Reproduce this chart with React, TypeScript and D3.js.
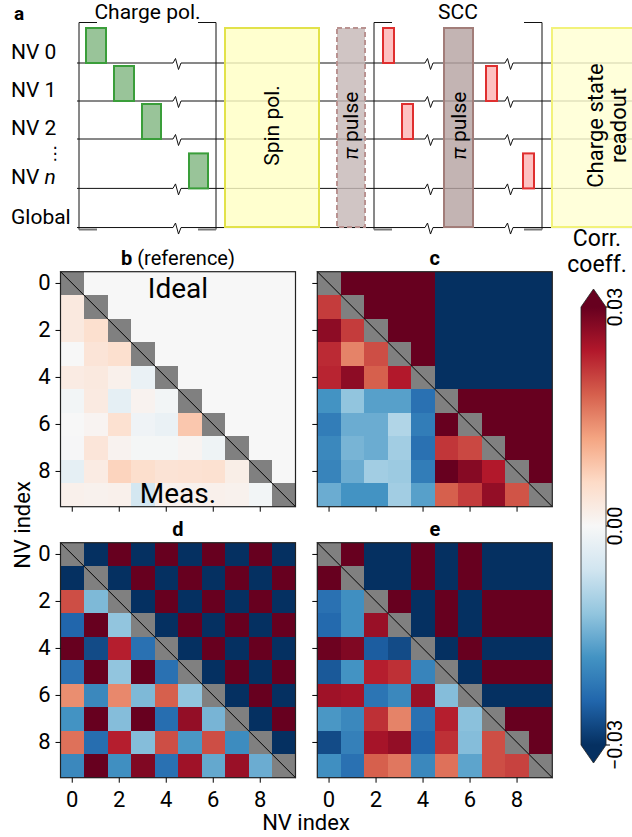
import React, { useEffect, useRef } from "react";
import * as d3 from "d3";

const FONT = "Roboto, 'DejaVu Sans', sans-serif";
const VMAX = 0.03;

// matrix categories and ticks
const nvIndex = [0, 1, 2, 3, 4, 5, 6, 7, 8, 9];
const axisTicks = [0, 2, 4, 6, 8];
const cbarTicks = [0.03, 0, -0.03];
const cbarTickLabels = ["0.03", "0.00", "\u22120.03"];

// RdBu colorbrewer anchors (red -> blue), used reversed like matplotlib's RdBu_r
const rdbu = ["#67001f", "#b2182b", "#d6604d", "#f4a582", "#fddbc7", "#f7f7f7", "#d1e5f0", "#92c5de", "#4393c3", "#2166ac", "#053061"];

// ideal (upper triangle, row i holds j = i+1..9), in units of the max correlation
const idealB = [
  [0, 0, 0, 0, 0, 0, 0, 0, 0],
  [0, 0, 0, 0, 0, 0, 0, 0],
  [0, 0, 0, 0, 0, 0, 0],
  [0, 0, 0, 0, 0, 0],
  [0, 0, 0, 0, 0],
  [0, 0, 0, 0],
  [0, 0, 0],
  [0, 0],
  [0],
];
const idealC = [
  [1, 1, 1, 1, -1, -1, -1, -1, -1],
  [1, 1, 1, -1, -1, -1, -1, -1],
  [1, 1, -1, -1, -1, -1, -1],
  [1, -1, -1, -1, -1, -1],
  [-1, -1, -1, -1, -1],
  [1, 1, 1, 1],
  [1, 1, 1],
  [1, 1],
  [1],
];
const idealD = [
  [-1, 1, -1, 1, -1, 1, -1, 1, -1],
  [-1, 1, -1, 1, -1, 1, -1, 1],
  [-1, 1, -1, 1, -1, 1, -1],
  [-1, 1, -1, 1, -1, 1],
  [-1, 1, -1, 1, -1],
  [-1, 1, -1, 1],
  [-1, 1, -1],
  [-1, 1],
  [-1],
];
const idealE = [
  [1, -1, -1, 1, -1, 1, -1, -1, -1],
  [-1, -1, 1, -1, 1, -1, -1, -1],
  [1, -1, 1, -1, 1, 1, 1],
  [-1, 1, -1, 1, 1, 1],
  [-1, 1, -1, -1, -1],
  [-1, 1, 1, 1],
  [-1, -1, -1],
  [1, 1],
  [1],
];

// measured (lower triangle, row i = 1..9 holds j = 0..i-1)
const measB = [
  [0.003],
  [0.003, 0.005],
  [0.0, 0.004, 0.005],
  [0.0025, 0.003, 0.0015, -0.002],
  [-0.0008, 0.0028, -0.0028, 0.001, -0.0008],
  [0.0, 0.0008, 0.0048, -0.0012, -0.002, 0.0082],
  [-0.0002, 0.0038, 0.001, -0.0005, -0.0005, 0.0008, -0.0015],
  [-0.0028, 0.0025, 0.0068, 0.0052, 0.0042, 0.0045, 0.0048, 0.002],
  [0.0015, 0.0012, 0.0015, -0.0055, 0.0012, 0.0012, 0.0015, 0.0012, -0.0008],
];
const measC = [
  [0.021],
  [0.027, 0.021],
  [0.0225, 0.015, 0.0195],
  [0.023, 0.027, 0.018, 0.024],
  [-0.018, -0.012, -0.0165, -0.0165, -0.0225],
  [-0.021, -0.015, -0.015, -0.009, -0.021, 0.031],
  [-0.0195, -0.014, -0.015, -0.0105, -0.0225, 0.0215, 0.02],
  [-0.02, -0.015, -0.0105, -0.011, -0.021, 0.032, 0.0275, 0.024],
  [-0.015, -0.018, -0.018, -0.0105, -0.0165, 0.018, 0.021, 0.0265, 0.019],
];
const measD = [
  [-0.031],
  [0.0195, -0.0135],
  [-0.024, 0.031, -0.012],
  [0.031, -0.027, 0.0235, -0.0225],
  [-0.0225, 0.031, -0.012, 0.031, -0.0225],
  [0.014, -0.0195, 0.0145, -0.0135, 0.018, -0.012],
  [-0.018, 0.031, -0.013, 0.031, -0.023, 0.0265, -0.014],
  [0.0165, -0.023, 0.0235, -0.013, 0.0195, -0.0175, 0.0195, -0.019],
  [-0.0195, 0.031, -0.0185, 0.028, -0.0225, 0.0255, -0.0155, 0.026, -0.015],
];
const measE = [
  [0.031],
  [-0.0225, -0.0185],
  [-0.0235, -0.0185, 0.026],
  [0.0295, 0.028, -0.025, -0.027],
  [-0.0255, -0.018, 0.0235, 0.022, -0.02],
  [0.0255, 0.025, -0.022, -0.0195, 0.026, -0.013],
  [-0.0175, -0.0195, 0.022, 0.015, -0.0225, 0.0235, -0.0125],
  [-0.027, -0.0205, 0.025, 0.0265, -0.024, 0.022, -0.013, 0.0195],
  [-0.0185, -0.0225, 0.018, 0.016, -0.0195, 0.0165, -0.016, 0.0195, 0.0205],
];

// pulse sequence schematic (times in arbitrary schematic units)
const seqRows = ["NV 0", "NV 1", "NV 2", "NV n", "Global"];
const seqRowLevel = [0, 1, 2, 3.3, 4.33];
const chargePulses = [
  [0, 9, 29],
  [1, 37, 57],
  [2, 65, 84],
  [3, 112, 131],
];
const sccPulses = [
  [0, 306, 317],
  [2, 325, 336],
  [1, 409, 420],
  [3, 446, 457],
];
const breakTimes = [101, 353, 433];
const seqBoxes = [
  { t0: 148, t1: 242, label: ["Spin pol."], kind: "laser" },
  { t0: 260, t1: 288, label: ["\u03c0 pulse"], kind: "mwDashed" },
  { t0: 367, t1: 396, label: ["\u03c0 pulse"], kind: "mw" },
  { t0: 475, t1: 585, label: ["Charge state", "readout"], kind: "readout" },
];
const seqBrackets = [
  { t0: 2, t1: 139, label: "Charge pol." },
  { t0: 297, t1: 465, label: "SCC" },
];

const boxStyle: Record<string, any> = {
  laser: { fill: "#ffffc4", stroke: "#e2e24a", dash: null, size: 21 },
  mwDashed: { fill: "#c6b8b7", stroke: "#b99290", dash: "5,3", size: 21 },
  mw: { fill: "#b6a4a2", stroke: "#a27d79", dash: null, size: 21 },
  readout: { fill: "#ffffd2", stroke: "#f2f27a", dash: null, size: 22 },
};

const cmap = d3
  .scaleLinear<string>()
  .domain(d3.range(rdbu.length).map((k) => VMAX - (k * 2 * VMAX) / (rdbu.length - 1)))
  .range(rdbu)
  .interpolate(d3.interpolateRgb)
  .clamp(true);
const colorOf = (v: number) => cmap(v);

function Axis({ scale, orient, transform, showLabels }: any) {
  const ref = useRef<SVGGElement>(null);
  useEffect(() => {
    const g = d3.select(ref.current!);
    const ax = orient === "left" ? d3.axisLeft(scale) : d3.axisBottom(scale);
    ax.tickValues(axisTicks)
      .tickSize(5)
      .tickPadding(orient === "left" ? 5 : 9)
      .tickFormat(showLabels ? (d: any) => String(d) : () => "");
    g.call(ax as any);
    g.select(".domain").remove();
    g.attr("font-size", 22).attr("font-family", FONT);
    g.selectAll("text").attr("fill", "#000");
    g.selectAll("line").attr("stroke", "#000");
  }, [scale, orient, showLabels]);
  return <g ref={ref} transform={transform} />;
}

function Heatmap({ left, top, size, ideal, meas, letter, sub, showXLabels, showYLabels, notes }: any) {
  const x = d3.scaleBand<number>().domain(nvIndex).range([left, left + size]);
  const y = d3.scaleBand<number>().domain(nvIndex).range([top, top + size]);
  const bw = x.bandwidth();
  const cells: any[] = [];
  nvIndex.forEach((i) =>
    nvIndex.forEach((j) => {
      let fill = "#808080";
      if (j > i) fill = colorOf(ideal[i][j - i - 1] * VMAX);
      else if (j < i) fill = colorOf(meas[i - 1][j]);
      cells.push({ i, j, fill });
    })
  );
  return (
    <g>
      <g shapeRendering="crispEdges">
        {cells.map((c) => (
          <rect key={`${c.i}-${c.j}`} x={x(c.j)} y={y(c.i)}
            width={c.j === 9 ? bw : bw + 1} height={c.i === 9 ? bw : bw + 1} fill={c.fill} />
        ))}
      </g>
      <line x1={left} y1={top} x2={left + size} y2={top + size} stroke="#000" strokeWidth={1} />
      <rect x={left} y={top} width={size} height={size} fill="none" stroke="#222" strokeWidth={1.2} />
      <text x={left + size / 2} y={top - 7} textAnchor="middle" fontFamily={FONT} fontSize={20}>
        <tspan fontWeight="bold">{letter}</tspan>
        {sub ? <tspan>{sub}</tspan> : null}
      </text>
      {notes}
      <Axis scale={y} orient="left" transform={`translate(${left},0)`} showLabels={showYLabels} />
      <Axis scale={x} orient="bottom" transform={`translate(0,${top + size})`} showLabels={showXLabels} />
    </g>
  );
}

function Sequence() {
  const tX = d3.scaleLinear().domain([0, 555]).range([77, 632]);
  const yRow = d3.scaleLinear().domain([0, 1]).range([63, 101]);
  const pulseH = 35;
  const boxTop = 28;
  const boxBottom = 227;
  const rowPath = (yy: number) => {
    let d = `M${tX(0)},${yy}`;
    breakTimes.forEach((b) => {
      const bx = tX(b);
      d += ` L${bx - 5},${yy} L${bx - 2.5},${yy - 4.5} L${bx + 0.5},${yy + 6.5} L${bx + 3},${yy}`;
    });
    return d + ` L${tX(555)},${yy}`;
  };
  return (
    <g fontFamily={FONT}>
      <text x={14} y={20} fontSize={19} fontWeight="bold">a</text>
      {seqRows.map((r, k) => {
        const yy = yRow(seqRowLevel[k]);
        const italic = r.endsWith(" n");
        return (
          <g key={r}>
            <path d={rowPath(yy)} fill="none" stroke="#111" strokeWidth={1} />
            <text x={11} y={yy - 4} fontSize={21}>
              {italic ? (
                <>
                  <tspan>NV </tspan>
                  <tspan fontStyle="italic">n</tspan>
                </>
              ) : (
                r
              )}
            </text>
          </g>
        );
      })}
      <text x={55} y={159} fontSize={17} textAnchor="middle" fontFamily="'DejaVu Sans'">{"\u22ee"}</text>
      {chargePulses.map(([r, t0, t1], k) => (
        <rect key={`g${k}`} x={tX(t0)} y={yRow(seqRowLevel[r]) - pulseH} width={tX(t1) - tX(t0)} height={pulseH}
          fill="#99c499" stroke="#3a9e3a" strokeWidth={2} />
      ))}
      {sccPulses.map(([r, t0, t1], k) => (
        <rect key={`r${k}`} x={tX(t0)} y={yRow(seqRowLevel[r]) - pulseH} width={tX(t1) - tX(t0)} height={pulseH}
          fill="#fdc2c2" stroke="#df2f2f" strokeWidth={2} />
      ))}
      {seqBoxes.map((b, k) => {
        const st = boxStyle[b.kind];
        const x0 = tX(b.t0);
        const x1 = tX(b.t1);
        const cx = (x0 + x1) / 2;
        const cy = (boxTop + boxBottom) / 2 - 2;
        const n = b.label.length;
        return (
          <g key={`b${k}`}>
            <rect x={x0} y={boxTop} width={x1 - x0} height={boxBottom - boxTop} fill={st.fill} fillOpacity={0.82}
              stroke={st.stroke} strokeWidth={2} strokeDasharray={st.dash || undefined} />
            <text transform={`translate(${cx},${cy}) rotate(-90)`} textAnchor="middle" fontSize={st.size}>
              {b.label.map((l, li) => {
                const dy = (li - (n - 1) / 2) * 1.02 + 0.35;
                if (l.startsWith("\u03c0")) {
                  return (
                    <tspan key={li} x={0} dy={`${dy}em`}>
                      <tspan fontStyle="italic">{"\u03c0"}</tspan>
                      {l.slice(1)}
                    </tspan>
                  );
                }
                return (
                  <tspan key={li} x={0} y={0} dy={`${dy}em`}>{l}</tspan>
                );
              })}
            </text>
          </g>
        );
      })}
      {seqBrackets.map((b, k) => {
        const x0 = tX(b.t0);
        const x1 = tX(b.t1);
        const yt = 22.5;
        const yb = 229.5;
        const tick = 18;
        return (
          <g key={`k${k}`}>
            <path d={`M${x0 + tick},${yt} L${x0},${yt} L${x0},${yb}`} fill="none" stroke="#111" strokeWidth={1} />
            <path d={`M${x1 - tick},${yt} L${x1},${yt} L${x1},${yb}`} fill="none" stroke="#111" strokeWidth={1} />
            <line x1={x0} x2={x0 + tick} y1={yb} y2={yb} stroke="#777" strokeWidth={2} />
            <line x1={x1 - tick} x2={x1} y1={yb} y2={yb} stroke="#777" strokeWidth={2} />
            <text x={(x0 + x1) / 2} y={19} textAnchor="middle" fontSize={21}>{b.label}</text>
          </g>
        );
      })}
    </g>
  );
}

function Colorbar() {
  const x0 = 581;
  const w = 25;
  const cy = d3.scaleLinear().domain([-VMAX, VMAX]).range([745, 307]);
  const tip = 18;
  const stops = d3.range(0, 1.0001, 0.05);
  const yTop = cy(VMAX);
  const yBot = cy(-VMAX);
  return (
    <g fontFamily={FONT}>
      <defs>
        <linearGradient id="cbarGrad" x1="0" y1="1" x2="0" y2="0">
          {stops.map((t) => (
            <stop key={t} offset={t} stopColor={colorOf(-VMAX + t * 2 * VMAX)} />
          ))}
        </linearGradient>
      </defs>
      <rect x={x0} y={yTop} width={w} height={yBot - yTop} fill="url(#cbarGrad)" />
      <path d={`M${x0},${yTop} L${x0 + w / 2},${yTop - tip} L${x0 + w},${yTop} Z`} fill={colorOf(VMAX)} />
      <path d={`M${x0},${yBot} L${x0 + w / 2},${yBot + tip} L${x0 + w},${yBot} Z`} fill={colorOf(-VMAX)} />
      <path
        d={`M${x0},${yTop} L${x0 + w / 2},${yTop - tip} L${x0 + w},${yTop} L${x0 + w},${yBot} L${x0 + w / 2},${yBot + tip} L${x0},${yBot} Z`}
        fill="none" stroke="#222" strokeWidth={0.8} />
      {cbarTicks.map((t, k) => (
        <g key={t}>
          <line x1={x0 + w} x2={x0 + w + 4} y1={cy(t)} y2={cy(t)} stroke="#000" />
          <text transform={`translate(${x0 + w + 16},${cy(t)}) rotate(-90)`} textAnchor="middle" fontSize={20}>
            {cbarTickLabels[k]}
          </text>
        </g>
      ))}
      <text x={597} y={246} textAnchor="middle" fontSize={23}>Corr.</text>
      <text x={597} y={272} textAnchor="middle" fontSize={23}>coeff.</text>
    </g>
  );
}

export default function App() {
  const size = 235;
  const lx = 60.5;
  const rx = 317.3;
  const ty = 271.7;
  const by = 542.7;
  return (
    <div style={{ position: "absolute", left: 0, top: 0 }}>
      <svg width={632} height={837} style={{ display: "block", background: "#fff" }}>
        <Sequence />
        <Heatmap left={lx} top={ty} size={size} ideal={idealB} meas={measB} letter="b" sub=" (reference)"
          showYLabels showXLabels={false}
          notes={
            <g fontFamily={FONT} fontSize={28} textAnchor="middle">
              <text x={lx + size / 2} y={298}>Ideal</text>
              <text x={lx + size / 2} y={503}>Meas.</text>
            </g>
          } />
        <Heatmap left={rx} top={ty} size={size} ideal={idealC} meas={measC} letter="c"
          showYLabels={false} showXLabels={false} />
        <Heatmap left={lx} top={by} size={size} ideal={idealD} meas={measD} letter="d"
          showYLabels showXLabels />
        <Heatmap left={rx} top={by} size={size} ideal={idealE} meas={measE} letter="e"
          showYLabels={false} showXLabels />
        <Colorbar />
        <text x={306} y={830} textAnchor="middle" fontFamily={FONT} fontSize={22}>NV index</text>
        <text transform="translate(30,525) rotate(-90)" textAnchor="middle" fontFamily={FONT} fontSize={22}>NV index</text>
      </svg>
    </div>
  );
}
